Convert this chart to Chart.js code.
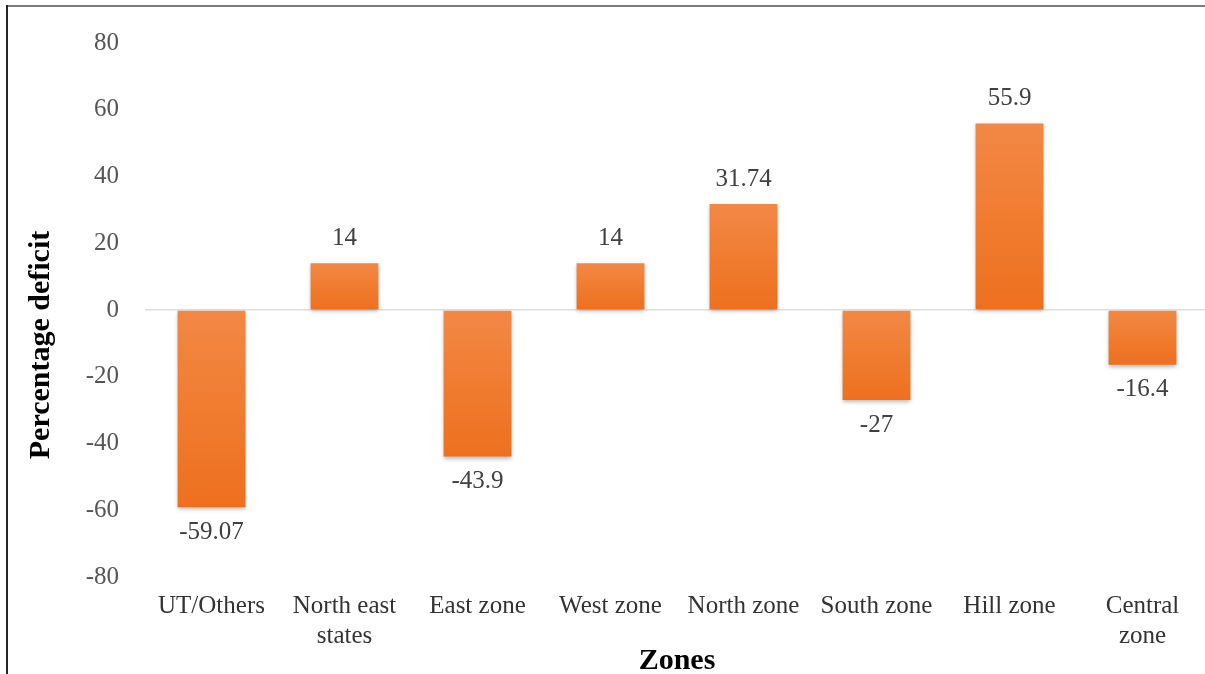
<!DOCTYPE html>
<html>
<head>
<meta charset="utf-8">
<script src="https://cdn.jsdelivr.net/npm/chart.js@4.4.1/dist/chart.umd.min.js"></script>
<style>
  html, body { margin: 0; padding: 0; background: #fff; overflow: hidden; }
  #wrap { position: relative; width: 1205px; height: 674px; overflow: hidden; }
  #box { position: absolute; left: 0; top: 0; width: 1210px; height: 674px; }
  #frameTop { position: absolute; left: 7px; top: 5px; width: 1200px; height: 0; border-top: 2px solid #7a7a7a; }
  #frameLeft { position: absolute; left: 6px; top: 5px; width: 0; height: 680px; border-left: 2px solid #262626; }
</style>
</head>
<body>
<div id="wrap">
  <div id="box"><canvas id="c" width="1210" height="674"></canvas></div>
  <div id="frameTop"></div>
  <div id="frameLeft"></div>
</div>
<script>
// Rainfall percentage deficit by zone
const zones = ['UT/Others', ['North east', 'states'], 'East zone', 'West zone', 'North zone', 'South zone', 'Hill zone', ['Central', 'zone']];
const deficit = [-59.07, 14, -43.9, 14, 31.74, -27, 55.9, -16.4];
const valueLabels = ['-59.07', '14', '-43.9', '14', '31.74', '-27', '55.9', '-16.4'];
const yTicks = [-80, -60, -40, -20, 0, 20, 40, 60, 80];

const serif = '"Liberation Serif", "Times New Roman", serif';

// Vertical shading for each bar, lighter at the top
function barFill(ctx) {
  const chart = ctx.chart;
  const y = chart.scales && chart.scales.y;
  if (!y || ctx.dataIndex === undefined) return '#F07A2E';
  const v = deficit[ctx.dataIndex];
  const top = y.getPixelForValue(Math.max(v, 0));
  const bottom = y.getPixelForValue(Math.min(v, 0));
  if (!isFinite(top) || !isFinite(bottom) || top === bottom) return '#F07A2E';
  const g = chart.ctx.createLinearGradient(0, top, 0, bottom);
  g.addColorStop(0, '#F28846');
  g.addColorStop(0.5, '#F07C30');
  g.addColorStop(1, '#ED701F');
  return g;
}

// Soft drop shadow under the bars
const barShadow = {
  id: 'barShadow',
  beforeDatasetsDraw(chart) {
    const c = chart.ctx;
    c.save();
    c.shadowColor = 'rgba(0,0,0,0.28)';
    c.shadowBlur = 4;
    c.shadowOffsetX = 0;
    c.shadowOffsetY = 2;
  },
  afterDatasetsDraw(chart) {
    chart.ctx.restore();
  }
};

// Value labels above positive bars and below negative bars
const valueTags = {
  id: 'valueTags',
  afterDatasetsDraw(chart) {
    const c = chart.ctx;
    const meta = chart.getDatasetMeta(0);
    c.save();
    c.font = '25px ' + serif;
    c.fillStyle = '#404040';
    c.textAlign = 'center';
    c.textBaseline = 'middle';
    meta.data.forEach((bar, i) => {
      const v = deficit[i];
      const yy = v >= 0 ? bar.y - 25 : bar.y + 25;
      c.fillText(valueLabels[i], bar.x, yy);
    });
    c.restore();
  }
};

// Vertical axis caption
const yCaption = {
  id: 'yCaption',
  afterDraw(chart) {
    const c = chart.ctx;
    c.save();
    c.translate(41, 345);
    c.rotate(-Math.PI / 2);
    c.font = 'bold 30px ' + serif;
    c.fillStyle = '#000';
    c.textAlign = 'center';
    c.textBaseline = 'middle';
    c.fillText('Percentage deficit', 0, 0);
    c.restore();
  }
};

new Chart(document.getElementById('c'), {
  type: 'bar',
  data: {
    labels: zones,
    datasets: [{
      data: deficit,
      backgroundColor: barFill,
      borderWidth: 0,
      barPercentage: 0.51,
      categoryPercentage: 1.0
    }]
  },
  options: {
    responsive: false,
    animation: false,
    devicePixelRatio: 1,
    layout: { padding: { top: 43, right: 1, bottom: 0, left: 0 } },
    plugins: { legend: { display: false }, tooltip: { enabled: false } },
    scales: {
      y: {
        min: -80,
        max: 80,
        afterBuildTicks(scale) { scale.ticks = yTicks.map(v => ({ value: v })); },
        afterFit(scale) { scale.width = 145; },
        border: { display: false },
        grid: {
          drawTicks: false,
          color: (ctx) => (ctx.tick && ctx.tick.value === 0 ? '#DDDDDD' : 'rgba(0,0,0,0)'),
          lineWidth: 1.5
        },
        ticks: {
          padding: 26,
          color: '#555555',
          font: { family: serif, size: 25 }
        }
      },
      x: {
        afterFit(scale) { scale.height = 97; },
        border: { display: false },
        grid: { display: false, drawTicks: false },
        ticks: {
          padding: 14,
          color: '#333333',
          maxRotation: 0,
          autoSkip: false,
          font: { family: serif, size: 25, lineHeight: 1.2 }
        },
        title: {
          display: true,
          text: 'Zones',
          color: '#000',
          padding: { top: 0, bottom: -2 },
          font: { family: serif, size: 30, weight: 'bold', lineHeight: 1 }
        }
      }
    }
  },
  plugins: [barShadow, valueTags, yCaption]
});
</script>
</body>
</html>
